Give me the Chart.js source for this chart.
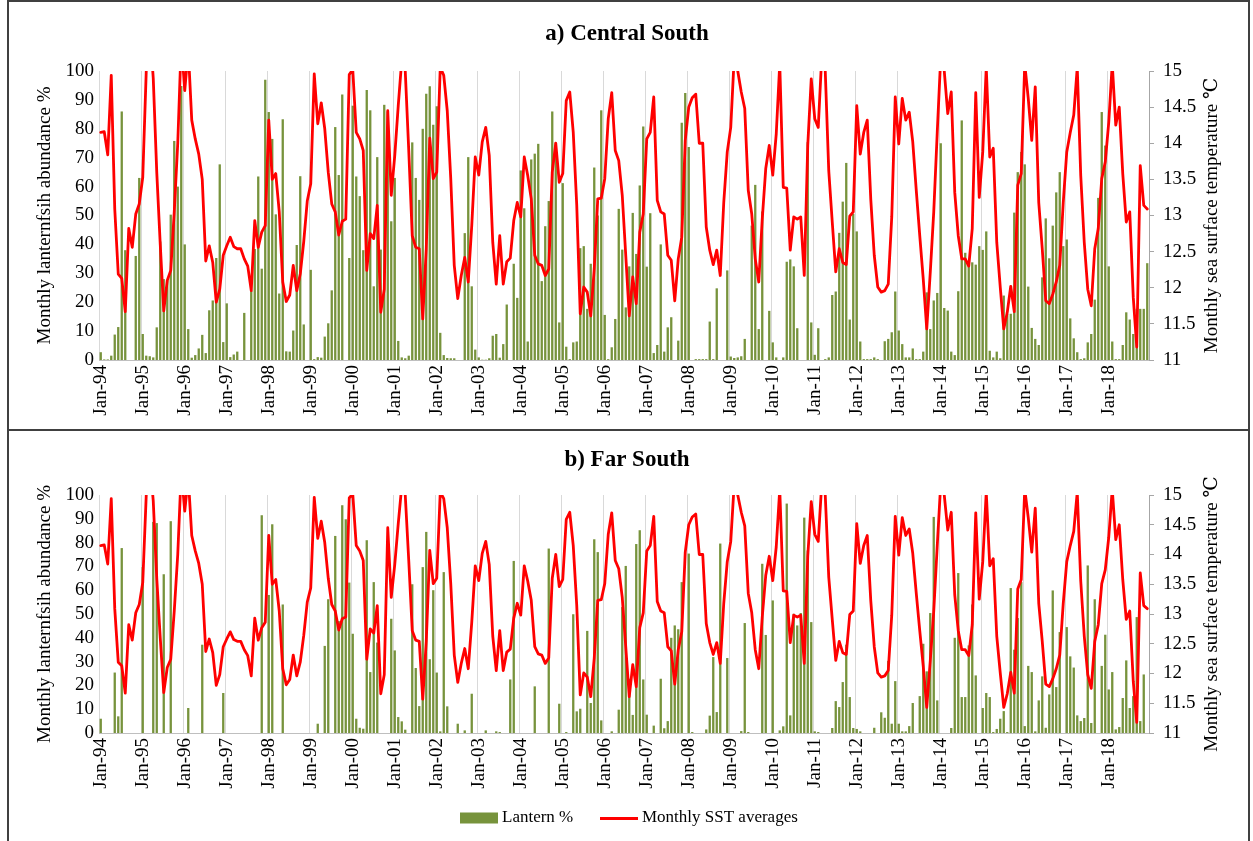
<!DOCTYPE html>
<html>
<head>
<meta charset="utf-8">
<script src="https://cdn.jsdelivr.net/npm/chart.js@4.4.1/dist/chart.umd.min.js"></script>
<style>
  html, body { margin: 0; padding: 0; background: #fff; }
  #wrap { position: relative; width: 1253px; height: 841px; overflow: hidden; background: #fff; }
  .panel { position: absolute; box-sizing: border-box; border: 2px solid #404040; }
  canvas { position: absolute; left: 0; }
</style>
</head>
<body>
<div id="wrap">
  <div class="panel" style="left:7px; top:0px; width:1243px; height:431px;"></div>
  <div class="panel" style="left:7px; top:429px; width:1243px; height:420px;"></div>
  <canvas id="centralSouth" width="1253" height="430" style="top:0px;"></canvas>
  <canvas id="farSouth" width="1253" height="411" style="top:430px;"></canvas>
</div>
<script>
// Month categories, Jan 1994 to Dec 2018
const years = ['94','95','96','97','98','99','00','01','02','03','04','05','06','07','08','09','10','11','12','13','14','15','16','17','18'];
const monthNames = ['Jan','Feb','Mar','Apr','May','Jun','Jul','Aug','Sep','Oct','Nov','Dec'];
const months = [];
years.forEach(y => monthNames.forEach(m => months.push(m + '-' + y)));

// Monthly SST averages (°C), one row per year
const sstAverages = [
  14.15,14.16,13.84,14.94,13.09,12.19,12.13,11.67,12.82,12.56,13.02,13.16,
  13.53,15.0,15.6,14.9,13.6,12.6,11.68,12.1,12.24,13.05,14.0,15.4,
  14.73,15.3,14.32,14.06,13.85,13.5,12.37,12.58,12.35,11.8,11.98,12.45,
  12.58,12.7,12.57,12.54,12.54,12.4,12.3,11.96,12.93,12.56,12.77,12.86,
  14.32,13.5,13.58,13.05,12.08,11.81,11.9,12.31,11.96,12.19,12.64,13.2,
  13.44,14.96,14.27,14.56,14.2,13.6,13.16,13.05,12.73,12.92,12.95,14.95,
  15.02,14.15,14.06,13.9,12.24,12.75,12.68,13.14,11.66,11.98,14.45,13.28,
  13.83,14.52,15.15,15.0,13.9,12.72,12.56,12.54,11.57,12.54,14.07,13.51,
  13.6,15.05,14.94,14.45,13.51,12.31,11.85,12.17,12.42,12.08,12.86,13.81,
  13.56,14.02,14.22,13.83,12.63,12.05,12.72,12.05,12.36,12.41,12.93,13.18,
  12.98,13.81,13.55,13.23,12.45,12.33,12.31,12.17,12.26,13.6,14.0,13.46,
  13.58,14.59,14.71,14.15,13.14,11.64,12.01,11.94,11.61,12.26,13.23,13.24,
  13.51,14.34,14.7,13.9,13.76,13.28,12.45,11.61,12.15,11.78,12.77,13.02,
  14.06,14.15,14.64,13.21,13.05,13.02,12.45,12.38,11.82,12.4,12.7,14.04,
  14.5,14.63,14.68,14.0,14.0,12.84,12.52,12.32,12.52,12.17,13.18,13.88,
  14.22,15.2,15.0,14.71,14.48,13.35,13.02,12.4,12.08,12.95,13.65,13.97,
  13.56,14.13,15.1,13.39,13.38,12.52,12.98,12.95,12.98,12.17,13.97,14.89,
  14.34,14.22,15.2,15.0,13.62,12.91,12.22,12.54,12.35,12.32,12.99,13.05,
  14.52,13.85,14.15,14.32,13.23,12.45,12.01,11.94,11.96,12.05,12.98,14.64,
  13.99,14.62,14.32,14.43,14.02,13.35,12.72,12.12,11.43,12.21,13.05,14.15,
  15.2,15.0,14.41,14.71,13.32,12.72,12.4,12.4,12.3,12.82,14.7,13.25,
  13.88,15.05,13.81,13.93,12.63,12.01,11.43,11.66,12.02,11.67,13.42,13.58,
  15.1,14.62,14.04,14.78,13.18,12.54,11.82,11.78,11.91,12.08,12.31,13.18,
  13.88,14.15,14.39,15.05,13.55,12.63,11.98,11.75,12.54,12.82,13.51,13.74,
  14.29,15.1,14.25,14.5,13.58,12.91,13.05,11.87,11.18,13.69,13.14,13.09
];

// Monthly lanternfish abundance (%) - Central South
const lanternCentralSouth = [
  2.7,0.2,0.2,1.5,8.8,11.4,86,38,0,0,36,63,
  9,1.5,1.3,0.9,11.3,41,28,27.5,50.3,75.8,60,94.8,
  40,10.7,0.8,1.7,4,8.7,2.4,17.2,20.6,35.3,67.7,6.2,
  19.6,1,1.9,2.9,0,16.3,0,24,38.4,63.5,31.6,97,
  85.8,76.5,50.4,23,83.3,3,2.9,10.2,39.8,63.6,12.3,0,
  31.2,0.3,1,0.8,8.1,12.7,24.1,80.6,64,91.9,0,35.3,
  88,63.5,56.7,38,93.4,86.4,25.5,70.2,38.2,88.3,86,48,
  63,6.6,0.9,0.6,1.5,75.3,63,55.4,80,92.1,94.7,81.4,
  87.8,9.4,1.7,0.7,0.6,0.6,0,0,43.9,70.2,25.5,3.6,
  0.9,0.1,0.1,0.6,8.4,9,0.8,5.5,19.2,0,33.3,21.5,
  65.6,52.5,6.4,69.4,71.4,74.8,27.3,46.3,55,86,75.2,13,
  61.2,4.6,0.3,6.1,6.4,38.7,39.4,17.7,33.3,66.6,50,86.4,
  15.6,0.3,4.4,14.2,52.3,38.2,18.2,32.4,50.9,36.7,60.4,80.8,
  32.3,50.8,2.4,5.2,40,2.9,11.3,14.8,0,6.7,82.1,92.4,
  73.7,0,0.3,0.3,0.3,0.3,13.3,0.3,24.8,0,0,31,
  1.2,0.7,0.9,1.3,7.3,0,46.5,60.6,10.7,51.4,0,17,
  6.1,0.9,0,0.9,34,34.8,32.4,11,0,0,75.4,13,
  1.8,11,0,0.3,0.9,22.5,23.7,44,54.8,68.2,14,50.6,
  44.5,6.4,0.3,0.3,0.3,0.9,0.3,0,6.5,7.3,9.6,23.7,
  10.2,5.5,0.9,0.9,4,0.3,0.3,2.9,23.4,10.7,20.6,23.2,
  75,18,17.1,2.9,1.7,23.8,82.9,37.1,32.7,33.8,33,39.4,
  38.1,44.5,3.2,0.9,2.9,0.6,22.3,16,16,51,65,72,
  67.7,25.4,11.1,7.3,5.2,28.6,49,35.2,46.5,58,65,39.4,
  41.7,14.4,7.5,2.7,0.3,0.6,6.1,9,20.9,56.1,85.8,74.2,
  32.4,6.4,0.3,0.3,5.2,16.5,14,9,17.7,17.7,17.7,33.5
];

// Monthly lanternfish abundance (%) - Far South
const lanternFarSouth = [
  6,0,0,0,25.4,7,77.7,0,0,0,0,0,
  69.7,0,0,88.7,88.2,0,66.7,0,89,0,0,0,
  0,10.5,0,0,0,37.1,0,0,0,0,0,16.8,
  0,0,0,0,0,0,0,0,0,0,91.5,0,
  58,87.7,0,0,54,0,0,0,0,0,0,0,
  0,0,3.9,0,36.6,56.2,0,82.8,47,95.7,89.8,63.2,
  41.7,6,2.2,1.8,81,25.6,63.4,38,0,0,0,48,
  34.7,6.7,4.9,1.4,0,62.5,27.3,11.3,69.7,84.5,31,60,
  25.4,0.7,67.6,11.2,0,0,3.9,0,1.1,0,16.5,0,
  0,0,1.1,0,0,0.7,0.4,0,0,22.5,72.3,0,
  0,0,0,0,19.6,0,0,0,77.5,0,0,12.3,
  0,0.4,0,49.9,9.1,10.2,0,42.9,12.6,81.4,76,5.3,
  0,0,0.7,0,9.8,52.9,70.2,22.8,7.6,79.4,85.2,22.5,
  7.7,0,3.1,0,22.8,2,5,40,45.2,43.6,63.4,0,
  75.4,0.4,0,0,0,1.5,7.3,31.9,8.8,79.6,0,31.5,
  0,0,0,0.8,46.2,0.4,0,0,0,71.1,41.2,0,
  55.7,0,1.1,2.8,96.4,7.4,50.1,45.2,50.4,90.5,76.7,46.6,
  0.7,0.4,0,0,0,2.1,13.4,10.9,21.4,37.1,15.1,2.1,
  1.7,0.7,0,0,0,2.2,0,8.7,6.4,30.3,3.9,21.8,
  3.9,0.7,0.7,2.9,12.6,0,15.5,37.5,25.9,50.4,90.8,13.7,
  0,0,0,2.1,40,67.2,15.1,15.1,36.8,54,24.2,0,
  10.5,16.8,15.1,0.4,1.7,6,9.2,0.4,60.9,35,48.3,63.4,
  2.9,28.2,25.6,0.7,13.7,23.8,2.2,16.2,59.9,19.3,42.4,0,
  44.5,32.2,27.5,7.4,5,6.3,70.4,4.2,56.2,0,28.2,41.3,
  18.3,25.6,1.5,2.5,14.7,30.5,10.5,15.5,48.7,5,24.6,0
];

const SERIF = "'Liberation Serif', 'Times New Roman', 'DejaVu Serif', serif";
const BAR_GREEN = '#77933C';
const SST_RED = '#FF0000';
const PLOT_LEFT = 99, PLOT_RIGHT = 1149, CANVAS_W = 1253;

// Panel titles, axis titles and (optionally) the legend, drawn on the chart canvas
function panelText(opts) {
  return {
    id: 'panelText',
    afterDraw(chart) {
      const ctx = chart.ctx;
      const area = chart.chartArea;
      const midY = (area.top + area.bottom) / 2;
      ctx.save();
      ctx.fillStyle = '#000';
      ctx.textAlign = 'center';
      ctx.textBaseline = 'middle';
      ctx.font = 'bold 23px ' + SERIF;
      ctx.fillText(opts.title, 627, opts.titleY);

      ctx.font = '19px ' + SERIF;
      ctx.save();
      ctx.translate(45, midY);
      ctx.rotate(-Math.PI / 2);
      ctx.fillText('Monthly lanternfsih abundance %', 0, 0);
      ctx.restore();
      ctx.save();
      ctx.translate(1212, midY);
      ctx.rotate(-Math.PI / 2);
      ctx.fillText('Monthly sea surface temperature \u2103', 0, 0);
      ctx.restore();

      if (opts.legendY !== undefined) {
        const ly = opts.legendY;
        ctx.fillStyle = BAR_GREEN;
        ctx.fillRect(460, ly - 5.5, 38, 11);
        ctx.strokeStyle = SST_RED;
        ctx.lineWidth = 3;
        ctx.beginPath();
        ctx.moveTo(600, ly + 0.5);
        ctx.lineTo(638, ly + 0.5);
        ctx.stroke();
        ctx.fillStyle = '#000';
        ctx.textAlign = 'left';
        ctx.font = '17px ' + SERIF;
        ctx.fillText('Lantern %', 502, ly);
        ctx.fillText('Monthly SST averages', 642, ly);
      }
      ctx.restore();
    }
  };
}

function buildPanel(canvasId, lanternValues, opts) {
  const canvas = document.getElementById(canvasId);
  const H = canvas.height;
  const tickFont = { family: SERIF, size: 19 };
  return new Chart(canvas, {
    type: 'bar',
    data: {
      labels: months,
      datasets: [
        {
          type: 'line',
          label: 'Monthly SST averages',
          data: sstAverages,
          yAxisID: 'y1',
          borderColor: SST_RED,
          backgroundColor: SST_RED,
          borderWidth: 2.8,
          pointRadius: 0,
          tension: 0,
          borderJoinStyle: 'round',
          borderCapStyle: 'round',
          clip: 0,
          order: 0
        },
        {
          type: 'bar',
          label: 'Lantern %',
          data: lanternValues,
          yAxisID: 'y',
          backgroundColor: BAR_GREEN,
          borderWidth: 0,
          barPercentage: 0.66,
          categoryPercentage: 1,
          order: 1
        }
      ]
    },
    options: {
      responsive: false,
      animation: false,
      devicePixelRatio: 1,
      layout: { padding: { left: 0, right: 0, top: opts.plotTop, bottom: 0 } },
      plugins: { legend: { display: false }, tooltip: { enabled: false }, title: { display: false } },
      scales: {
        x: {
          type: 'category',
          offset: true,
          grid: {
            offset: true,
            drawTicks: false,
            lineWidth: 1,
            color: c => (c.index % 12 === 0 ? '#D9D9D9' : 'rgba(0,0,0,0)')
          },
          border: { display: true, color: '#BFBFBF', width: 1 },
          ticks: {
            autoSkip: false,
            minRotation: 90,
            maxRotation: 90,
            padding: 5,
            color: '#000',
            font: tickFont,
            callback: (v, i) => (i % 12 === 0 ? months[i] : '')
          },
          afterFit: s => { s.height = H - opts.plotBottom; }
        },
        y: {
          position: 'left',
          min: 0,
          max: 100,
          ticks: { stepSize: 10, autoSkip: false, color: '#000', font: tickFont, padding: 5 },
          grid: { display: false, drawTicks: false },
          border: { display: false },
          afterFit: s => { s.width = PLOT_LEFT; }
        },
        y1: {
          position: 'right',
          min: 11,
          max: 15,
          ticks: {
            stepSize: 0.5, autoSkip: false, color: '#000', font: tickFont, padding: 9,
            callback: v => String(Math.round(v * 10) / 10)
          },
          grid: { drawOnChartArea: false, drawTicks: true, tickLength: 5, color: '#A6A6A6' },
          border: { display: true, color: '#A6A6A6', width: 1 },
          afterFit: s => { s.width = CANVAS_W - PLOT_RIGHT; }
        }
      }
    },
    plugins: [panelText(opts)]
  });
}

buildPanel('centralSouth', lanternCentralSouth, {
  title: 'a) Central South', titleY: 34, plotTop: 71, plotBottom: 360
});
buildPanel('farSouth', lanternFarSouth, {
  title: 'b) Far South', titleY: 30, plotTop: 65, plotBottom: 303, legendY: 388
});
</script>
</body>
</html>
